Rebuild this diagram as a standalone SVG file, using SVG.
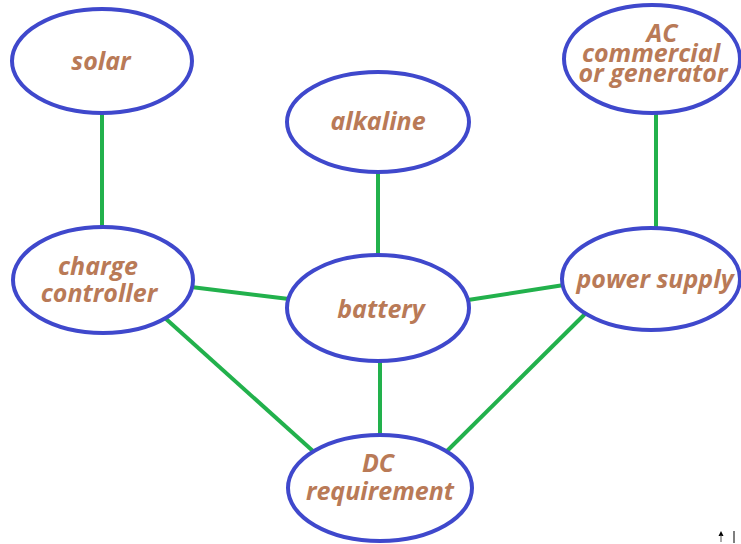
<svg xmlns="http://www.w3.org/2000/svg" width="741" height="544" viewBox="0 0 741 544">
  <style>
    .node { fill: #ffffff; stroke: #3f48cc; stroke-width: 4; }
    .label { font-family: "Open Sans", "DejaVu Sans", sans-serif; font-weight: bold; font-style: italic; font-size: 25px; fill: #b97a57; text-anchor: middle; }
    .link { stroke: #22b14c; stroke-width: 4; fill: none; }
  </style>
  <rect width="741" height="544" fill="#ffffff"/>

  <!-- connectors -->
  <g id="connectors">
    <line class="link" x1="102" y1="113" x2="102" y2="228"/>
    <line class="link" x1="378" y1="172" x2="378" y2="257"/>
    <line class="link" x1="656" y1="113" x2="656" y2="228"/>
    <line class="link" x1="191" y1="287" x2="289" y2="299"/>
    <line class="link" x1="468" y1="300" x2="564" y2="285"/>
    <line class="link" x1="165" y1="318" x2="314" y2="452"/>
    <line class="link" x1="380" y1="360" x2="380" y2="435"/>
    <line class="link" x1="586" y1="313" x2="446" y2="452"/>
  </g>

  <g id="solar">
    <ellipse class="node" cx="102" cy="61" rx="90" ry="52"/>
    <text class="label" x="101" y="70">solar</text>
  </g>

  <g id="alkaline">
    <ellipse class="node" cx="378" cy="122" rx="91" ry="50"/>
    <text class="label" x="378" y="130">alkaline</text>
  </g>

  <g id="ac-source">
    <ellipse class="node" cx="652" cy="59" rx="88" ry="54"/>
    <text class="label" x="662" y="42">AC</text>
    <text class="label" x="651" y="62">commercial</text>
    <text class="label" x="653" y="82">or generator</text>
  </g>

  <g id="charge-controller">
    <ellipse class="node" cx="103" cy="280" rx="90" ry="53"/>
    <text class="label" x="98" y="275">charge</text>
    <text class="label" x="99" y="302">controller</text>
  </g>

  <g id="battery">
    <ellipse class="node" cx="378" cy="308" rx="91" ry="53"/>
    <text class="label" x="381" y="318">battery</text>
  </g>

  <g id="power-supply">
    <ellipse class="node" cx="651" cy="279" rx="89" ry="51"/>
    <text class="label" x="655" y="288">power supply</text>
  </g>

  <g id="dc-requirement">
    <ellipse class="node" cx="380" cy="488" rx="92" ry="53"/>
    <text class="label" x="378" y="472">DC</text>
    <text class="label" x="380" y="500">requirement</text>
  </g>

  <!-- small marks in the lower right corner -->
  <g id="corner-marks">
    <polygon points="721,531 718.5,536 723.5,536" fill="#000000"/>
    <line x1="721" y1="535" x2="721" y2="542" stroke="#555555" stroke-width="1"/>
    <line x1="734" y1="531" x2="734" y2="543" stroke="#555555" stroke-width="1.5"/>
  </g>
</svg>
